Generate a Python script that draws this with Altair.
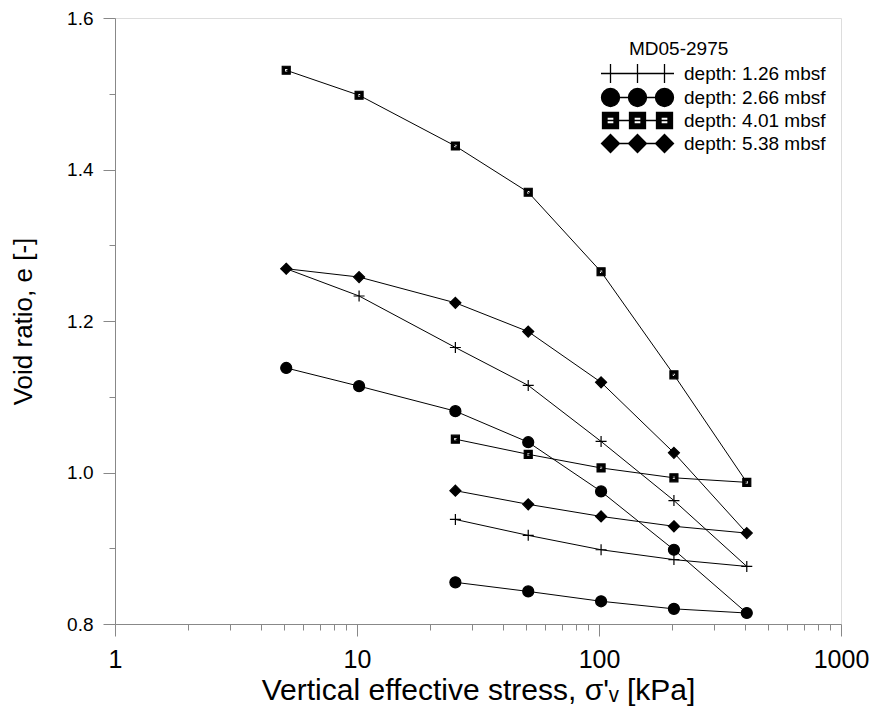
import altair as alt
import pandas as pd

# ---------------- data ----------------
series_names = ["depth: 1.26 mbsf", "depth: 2.66 mbsf", "depth: 4.01 mbsf", "depth: 5.38 mbsf"]
stress_load = [5.1, 10.2, 25.5, 51, 102, 204, 408]
stress_unload = [204, 102, 51, 25.5]

e_load_126 = [1.269, 1.233, 1.165, 1.115, 1.041, 0.963, 0.876]
e_unload_126 = [0.885, 0.898, 0.917, 0.938]
e_load_266 = [1.138, 1.114, 1.081, 1.040, 0.975, 0.898, 0.8145]
e_unload_266 = [0.820, 0.830, 0.843, 0.855]
e_load_401 = [1.531, 1.498, 1.431, 1.370, 1.265, 1.129, 0.987]
e_unload_401 = [0.993, 1.006, 1.024, 1.044]
e_load_538 = [1.269, 1.258, 1.224, 1.186, 1.119, 1.026, 0.920]
e_unload_538 = [0.929, 0.942, 0.958, 0.976]

loads = [e_load_126, e_load_266, e_load_401, e_load_538]
unloads = [e_unload_126, e_unload_266, e_unload_401, e_unload_538]

rows = []
for name, el, eu in zip(series_names, loads, unloads):
    xs = stress_load + stress_unload
    es = el + eu
    for i, (s, e) in enumerate(zip(xs, es)):
        rows.append({"series": name, "stress": s, "e": e, "order": i})
df = pd.DataFrame(rows)

# ---------------- symbols ----------------
def circ(cx, r):
    return (f"M {cx - r} 0 A {r} {r} 0 1 0 {cx + r} 0 "
            f"A {r} {r} 0 1 0 {cx - r} 0 Z ")

def sq(cx, a, b):
    return (f"M {cx - a} {-a} L {cx + a} {-a} L {cx + a} {a} L {cx - a} {a} Z "
            f"M {cx - b} {-b} L {cx - b} {b} L {cx + b} {b} L {cx + b} {-b} Z ")

def dia(cx, r):
    return f"M {cx} {-r} L {cx + r} 0 L {cx} {r} L {cx - r} 0 Z "

def plus(cx, r):
    return f"M {cx - r} 0 L {cx + r} 0 M {cx} {-r} L {cx} {r} "

# plot markers (size 100 -> 5 px per unit)
plot_shapes = [plus(0, 1.1), circ(0, 1.1), sq(0, 0.8, 0.35), dia(0, 1.1)]

# legend symbols (size 4 -> 1 px per unit): line with three markers
centers = [8, 35, 62]
line = "M 0 0 L 70 0 "
leg_shapes = [
    line + "".join(plus(c, 9.5) for c in centers),
    line + "".join(circ(c, 9) for c in centers),
    line + "".join(sq(c, 8, 3.5) for c in centers),
    line + "".join(dia(c, 9) for c in centers),
]

FONT = "Liberation Sans"

x_vals = [1, 2, 3, 4, 5, 6, 7, 8, 9, 10, 20, 30, 40, 50, 60, 70, 80, 90,
          100, 200, 300, 400, 500, 600, 700, 800, 900, 1000]
y_vals = [0.8, 0.9, 1.0, 1.1, 1.2, 1.3, 1.4, 1.5, 1.6]

is_decade = "abs(log(datum.value)/LN10 - round(log(datum.value)/LN10)) < 1e-6"
is_major_y = "abs(datum.value*5 - round(datum.value*5)) < 1e-6"

x_enc = alt.X(
    "stress:Q",
    scale=alt.Scale(type="log", domain=[1, 1000], nice=False),
    axis=alt.Axis(
        values=x_vals,
        format="d",
        labelExpr=f"({is_decade}) ? datum.label : ''",
        tickSize={"condition": {"test": is_decade, "value": 12}, "value": 6},
        title="Vertical effective stress, σ'ᵥ [kPa]",
        titleFont=FONT,
        titleFontSize=30,
        titleFontWeight="normal",
        titlePadding=3,
        labelFont=FONT,
        labelFontSize=25,
        labelPadding=11,
        labelFlush=False,
        grid=False,
    ),
)
y_enc = alt.Y(
    "e:Q",
    scale=alt.Scale(domain=[0.8, 1.6], nice=False, zero=False),
    axis=alt.Axis(
        values=y_vals,
        format=".1f",
        labelExpr=f"({is_major_y}) ? datum.label : ''",
        tickSize={"condition": {"test": is_major_y, "value": 12}, "value": 6},
        title="Void ratio, e [-]",
        titleFont=FONT,
        titleFontSize=26,
        titleFontWeight="normal",
        titlePadding=30,
        labelFont=FONT,
        labelFontSize=19,
        labelPadding=10,
        labelFlush=False,
        grid=False,
    ),
)

base = alt.Chart(df)

lines = base.mark_line(color="black", strokeWidth=1).encode(
    x=x_enc, y=y_enc, detail="series:N", order="order:Q"
)

points = base.mark_point(
    fill="black", stroke="black", strokeWidth=1.2, opacity=1, size=100
).encode(
    x=x_enc,
    y=y_enc,
    shape=alt.Shape("series:N", scale=alt.Scale(domain=series_names, range=plot_shapes), legend=None),
)

legend_layer = base.transform_filter("false").mark_point(
    fill="black", stroke="black", strokeWidth=1.3, opacity=1, size=4
).encode(
    shape=alt.Shape(
        "series:N",
        scale=alt.Scale(domain=series_names, range=leg_shapes),
        legend=alt.Legend(
            title=None,
            orient="none",
            legendX=478,
            legendY=46,
            labelFontSize=19,
            labelFont=FONT,
            labelColor="black",
            labelOffset=72,
            rowPadding=-1,
            symbolSize=4,
            symbolStrokeWidth=1.3,
        ),
    )
)

chart = (
    alt.layer(lines, points, legend_layer)
    .resolve_scale(shape="independent")
    .properties(
        width=726,
        height=606,
        autosize=alt.AutoSizeParams(type="none"),
        padding={"left": 115, "top": 18, "right": 31, "bottom": 95},
        title=alt.TitleParams(
            "MD05-2975",
            anchor="start",
            frame="group",
            orient="top",
            offset=0,
            dx=514,
            dy=65,
            baseline="alphabetic",
            font=FONT,
            fontSize=19,
            fontWeight="normal",
            color="black",
        ),
    )
    .configure_view(stroke="#6e6e6e", strokeWidth=2)
    .configure_axis(
        labelColor="black",
        titleColor="black",
        domainColor="#6e6e6e",
        domainWidth=2,
        tickColor="#333333",
        tickWidth=1.5,
    )
    .configure(background="white")
)

chart.save("out.html", embed_options={"renderer": "svg", "actions": False})
